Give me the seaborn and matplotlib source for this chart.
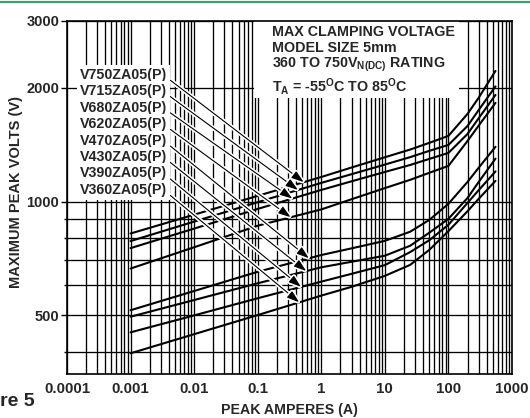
import numpy as np
import pandas as pd
import seaborn as sns
import matplotlib
matplotlib.use("Agg")
import matplotlib.pyplot as plt
import matplotlib.patheffects as pe
from matplotlib.patches import Rectangle
from matplotlib.lines import Line2D
from matplotlib.ticker import FixedLocator, NullFormatter, LogLocator

# ---------------- data ----------------
current = [0.001, 0.01, 0.1, 1, 3, 10, 25, 50, 100, 200, 300, 550]
models = ["V750ZA05(P)", "V715ZA05(P)", "V680ZA05(P)", "V620ZA05(P)",
          "V470ZA05(P)", "V430ZA05(P)", "V390ZA05(P)", "V360ZA05(P)"]
v750 = [823, 923, 1035, 1161, 1230, 1309, 1372, 1429, 1491, 1705, 1882, 2214]
v715 = [786, 885, 996, 1120, 1181, 1252, 1310, 1361, 1411, 1584, 1746, 2015]
v680 = [753, 848, 956, 1073, 1131, 1197, 1249, 1296, 1344, 1509, 1661, 1913]
v620 = [665, 757, 863, 953, 1014, 1085, 1141, 1191, 1242, 1446, 1588, 1823]
v470 = [516, 580, 652, 722, 752, 787, 832, 894, 986, 1127, 1229, 1395]
v430 = [496, 549, 608, 670, 693, 719, 764, 827, 900, 1022, 1127, 1298]
v390 = [451, 500, 555, 614, 644, 679, 735, 790, 868, 992, 1072, 1201]
v360 = [397, 446, 501, 564, 595, 636, 680, 745, 835, 943, 1017, 1134]
series = [v750, v715, v680, v620, v470, v430, v390, v360]
arrow_current = [0.53, 0.43, 0.35, 0.33, 0.64, 0.58, 0.48, 0.45]

xtick_vals = [1e-4, 1e-3, 1e-2, 1e-1, 1, 10, 100, 1000]
xtick_labels = ["0.0001", "0.001", "0.01", "0.1", "1", "10", "100", "1000"]
ytick_major = [500, 1000, 2000, 3000]
ytick_labels = ["500", "1000", "2000", "3000"]
ytick_minor = [400, 600, 700, 800, 900]

info_lines = ["MAX CLAMPING VOLTAGE",
              "MODEL SIZE 5mm",
              r"360 TO 750V$_{\mathrm{N(DC)}}$ RATING",
              r"T$_{\mathrm{A}}$ = -55$^{\mathrm{O}}$C TO 85$^{\mathrm{O}}$C"]

df = pd.DataFrame({
    "current": np.tile(current, len(models)),
    "volts": np.concatenate(series),
    "model": np.repeat(models, len(current)),
})

# ---------------- style ----------------
sns.set_theme(style="ticks")
plt.rcParams["font.family"] = ["Liberation Sans", "DejaVu Sans"]
plt.rcParams["font.weight"] = "bold"
plt.rcParams["mathtext.fontset"] = "custom"
plt.rcParams["mathtext.rm"] = "Liberation Sans:bold"
plt.rcParams["mathtext.it"] = "Liberation Sans:bold"
plt.rcParams["mathtext.bf"] = "Liberation Sans:bold"

fig = plt.figure(figsize=(5.30, 4.18), dpi=100)
ax = fig.add_axes([67 / 530, 1 - 374 / 418, 445 / 530, 353 / 418])
ax.set_xscale("log")
ax.set_yscale("log")
ax.set_xlim(1e-4, 1e3)
ax.set_ylim(350, 3000)

sns.lineplot(data=df, x="current", y="volts", hue="model", hue_order=models,
             palette=["black"] * len(models), legend=False, estimator=None,
             linewidth=1.5, ax=ax, zorder=2)

# ticks and grid
ax.set_xticks(xtick_vals, xtick_labels)
ax.xaxis.set_minor_locator(LogLocator(base=10, subs=np.arange(2, 10)))
ax.xaxis.set_minor_formatter(NullFormatter())
ax.yaxis.set_major_locator(FixedLocator(ytick_major))
ax.set_yticklabels(ytick_labels)
ax.yaxis.set_minor_locator(FixedLocator(ytick_minor))
ax.yaxis.set_minor_formatter(NullFormatter())
ax.tick_params(axis="x", which="both", length=0, pad=6, labelsize=10.8)
ax.tick_params(axis="y", which="major", length=4, width=1.0, pad=1.5,
               labelsize=10.5, color="black")
ax.tick_params(axis="y", which="minor", length=2, width=1.0, color="black")
for lab in ax.get_xticklabels() + ax.get_yticklabels():
    lab.set_fontweight("bold")
ax.set_axisbelow(True)
ax.grid(which="both", axis="both", color="black", linewidth=0.95)
for sp in ax.spines.values():
    sp.set_color("black")
    sp.set_linewidth(1.2)

ax.set_xlabel("PEAK AMPERES (A)", fontsize=10.2, fontweight="bold", labelpad=5)
ax.set_ylabel("MAXIMUM PEAK VOLTS (V)", fontsize=10.5, fontweight="bold")
ax.yaxis.set_label_coords(-0.098, 0.515)

# info box (white background covering grid)
ax.add_patch(Rectangle((0.420, 0.782), 0.461, 0.218, transform=ax.transAxes,
                       facecolor="white", edgecolor="none", zorder=1.5))
ax.text(0.4607, 0.988, "\n".join(info_lines), transform=ax.transAxes,
        ha="left", va="top", fontsize=10.3, fontweight="bold",
        linespacing=1.12, zorder=3)

# labels with arrows
halo = [pe.Stroke(linewidth=3.2, foreground="white"), pe.Normal()]
for i, (name, vals, xa) in enumerate(zip(models, series, arrow_current)):
    ya = 10 ** np.interp(np.log10(xa), np.log10(current), np.log10(vals))
    ax.annotate(name, xy=(xa, ya), xycoords="data",
                xytext=(0.029, 0.847 - i * 0.0465), textcoords="axes fraction",
                ha="left", va="center", fontsize=10.3, fontweight="bold",
                bbox=dict(boxstyle="square,pad=0.22", facecolor="white",
                          edgecolor="none"),
                arrowprops=dict(arrowstyle="-|>,head_length=0.75,head_width=0.25",
                                color="black", lw=0.8, relpos=(1.0, 0.3),
                                shrinkA=0, shrinkB=0, mutation_scale=10,
                                path_effects=halo),
                zorder=4)

# figure decorations
fig.add_artist(Line2D([0, 1], [1 - 1.7 / 418] * 2, color="#3c9f6e", lw=1.6,
                      transform=fig.transFigure))
fig.text(0.0, 1 - 401 / 418, "re 5", ha="left", va="center", fontsize=14,
         fontweight="bold")

fig.savefig("out.png", dpi=100)
